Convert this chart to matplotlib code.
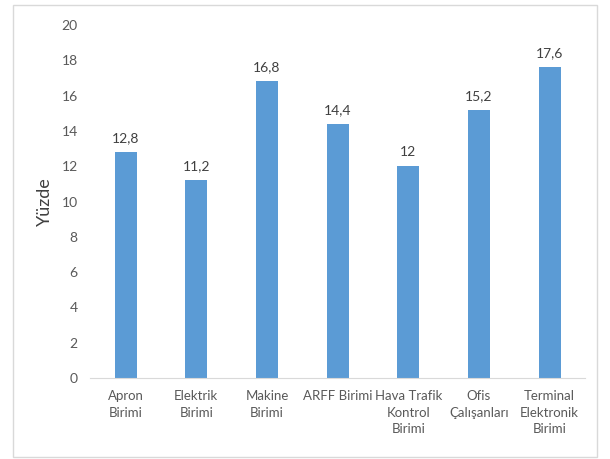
import matplotlib.pyplot as plt
from matplotlib.patches import Rectangle

plt.rcParams['font.family'] = ['Lato', 'DejaVu Sans']

categories = ['Apron\nBirimi', 'Elektrik\nBirimi', 'Makine\nBirimi', 'ARFF Birimi',
              'Hava Trafik\nKontrol\nBirimi', 'Ofis\nÇalışanları', 'Terminal\nElektronik\nBirimi']
values = [12.8, 11.2, 16.8, 14.4, 12, 15.2, 17.6]
value_labels = ['12,8', '11,2', '16,8', '14,4', '12', '15,2', '17,6']

fig = plt.figure(figsize=(6.1, 4.59), dpi=100)
ax = fig.add_axes([0.148, 0.1765, 0.811, 0.769])

x = range(len(categories))
bars = ax.bar(x, values, width=0.31, color='#5B9BD5')
for xi, v, lab in zip(x, values, value_labels):
    ax.text(xi, v + 0.45, lab, ha='center', va='bottom', fontsize=10, color='#404040')

ax.set_xlim(-0.5, len(categories) - 0.5)
ax.set_ylim(0, 20)
ax.set_yticks(range(0, 21, 2))
ax.set_xticks(list(x))
ax.set_xticklabels(categories, fontsize=9.5, color='#595959', linespacing=1.45)
ax.tick_params(axis='both', length=0, labelsize=10, labelcolor='#595959')
ax.tick_params(axis='x', labelsize=9.5, pad=9)
ax.tick_params(axis='y', pad=9)
for s in ['top', 'right', 'left']:
    ax.spines[s].set_visible(False)
ax.spines['bottom'].set_color('#D9D9D9')
ax.set_ylabel('Yüzde', fontsize=13, color='#404040', labelpad=6)

fig.patches.append(Rectangle((13 / 610, 2 / 459), 584 / 610, 452 / 459, transform=fig.transFigure,
                             fill=False, edgecolor='#D9D9D9', linewidth=1))

fig.savefig('out.png', dpi=100)
